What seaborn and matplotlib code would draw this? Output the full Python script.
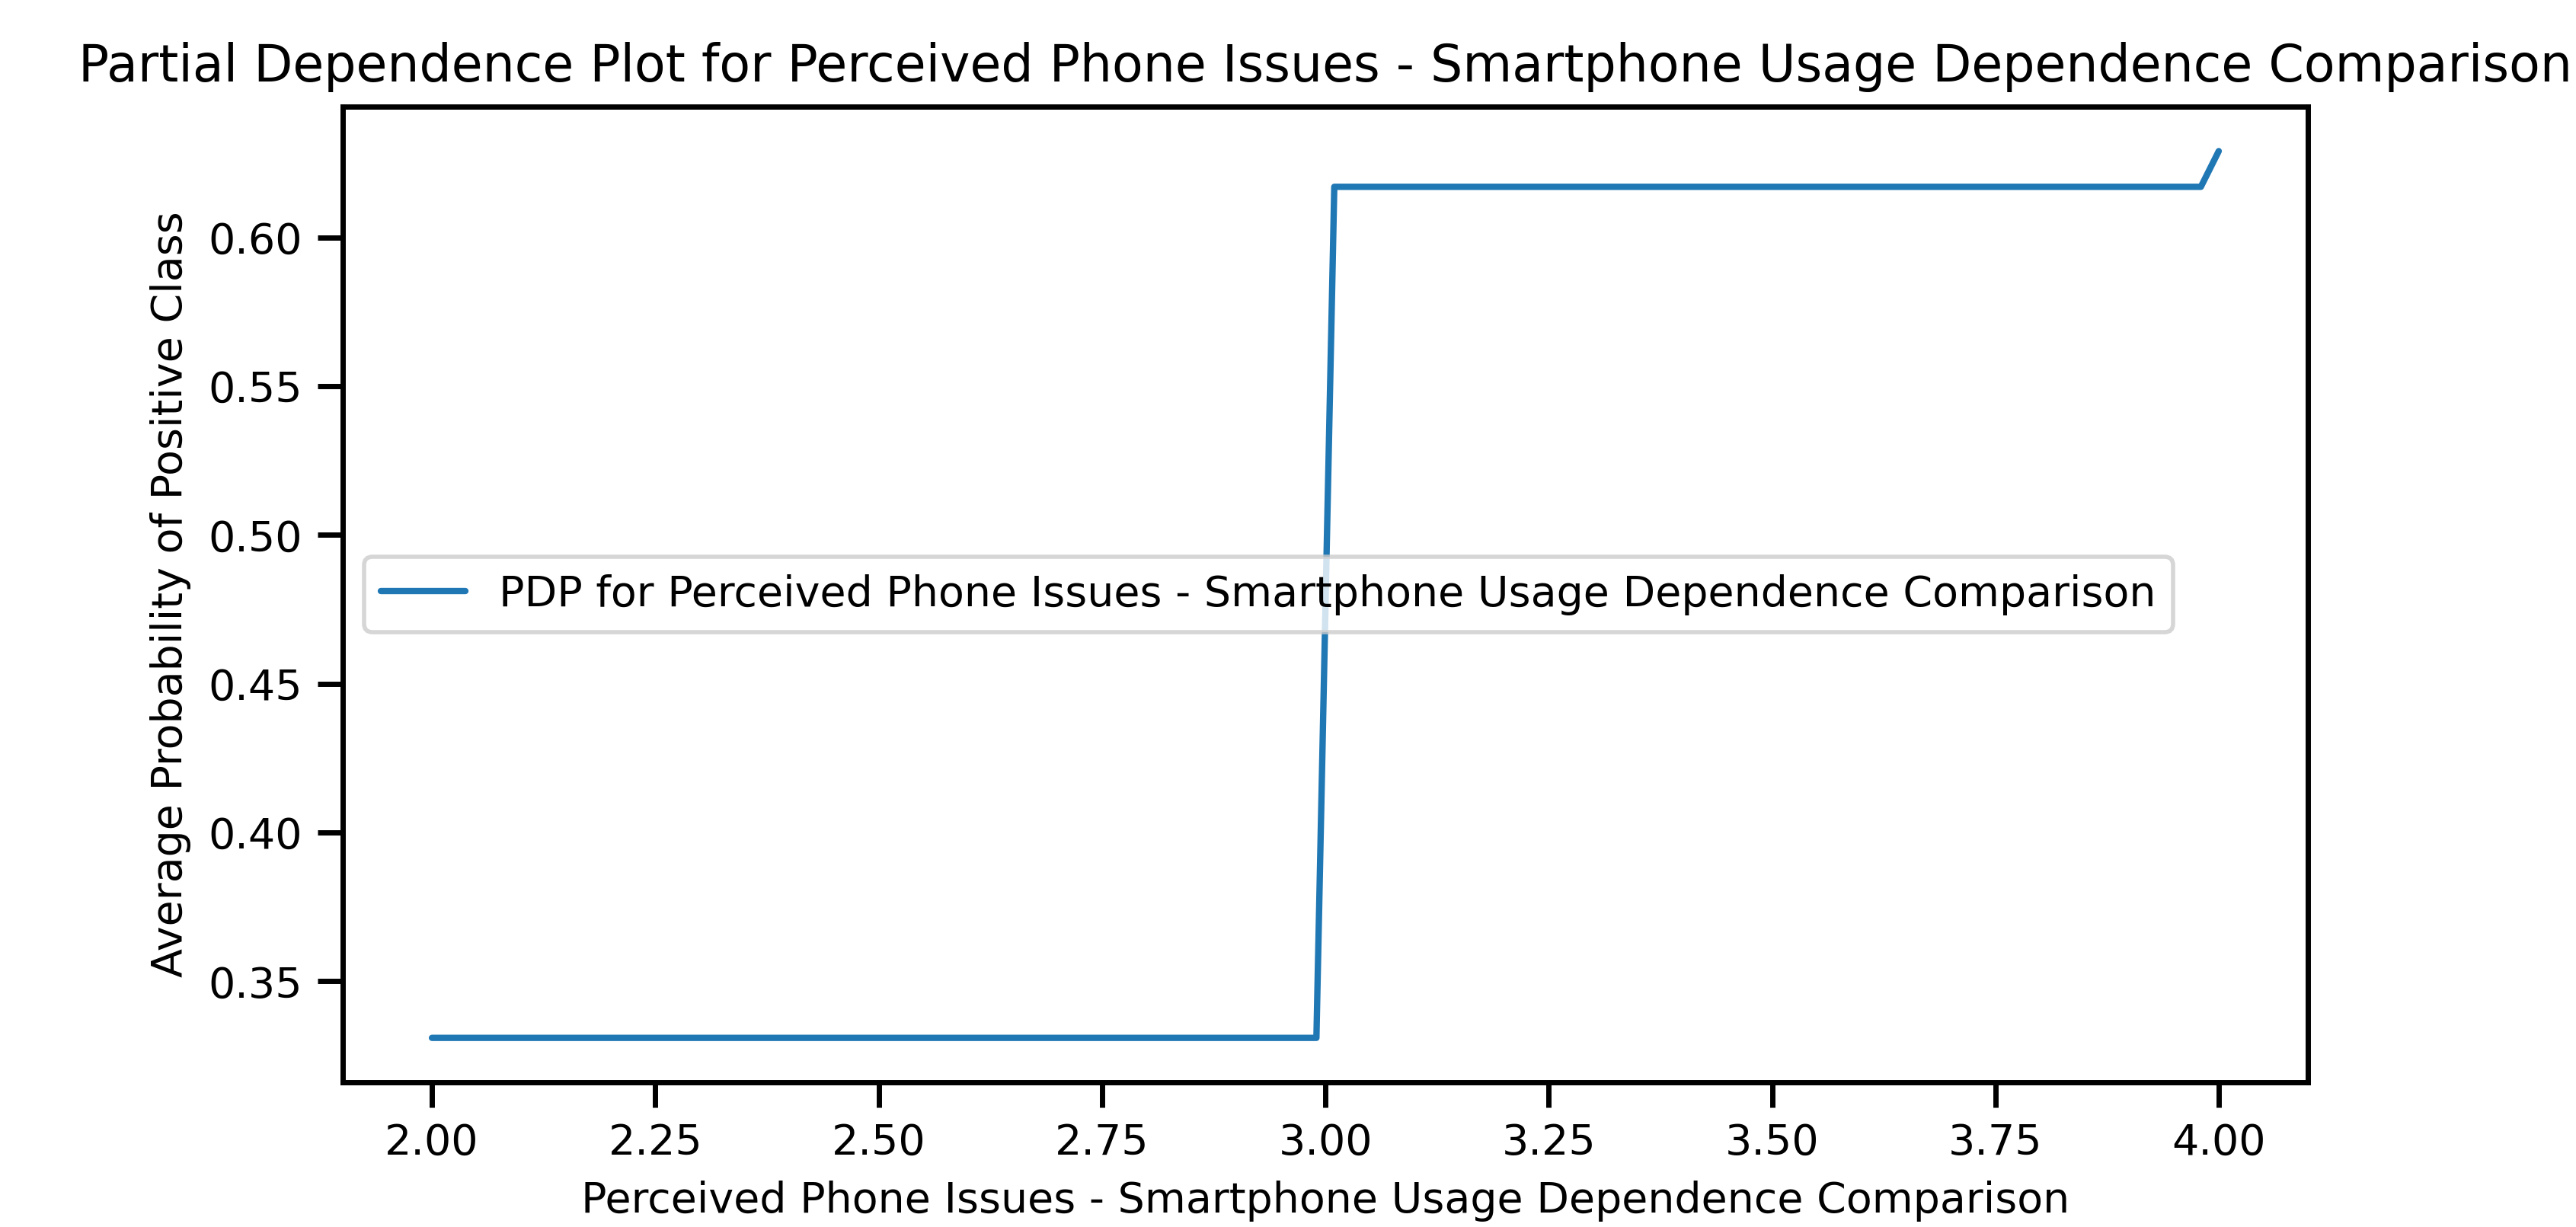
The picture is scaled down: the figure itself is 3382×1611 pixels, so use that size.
import matplotlib
matplotlib.use("Agg")
import matplotlib.pyplot as plt
import seaborn as sns
import pandas as pd

x_vals = [2.0, 2.99, 3.01, 3.98, 4.0]
pdp_vals = [0.331, 0.331, 0.617, 0.617, 0.629]
feature = "Perceived Phone Issues - Smartphone Usage Dependence Comparison"

sns.set_style("ticks")
sns.set_context("notebook", rc={"font.size": 10, "axes.titlesize": 12, "axes.labelsize": 10,
                                "xtick.labelsize": 10, "ytick.labelsize": 10, "legend.fontsize": 10,
                                "lines.linewidth": 1.5})
plt.rcParams['font.family'] = ['DejaVu Sans']
plt.rcParams['axes.edgecolor'] = 'black'
plt.rcParams['text.color'] = 'black'
plt.rcParams['axes.labelcolor'] = 'black'
plt.rcParams['xtick.color'] = 'black'
plt.rcParams['ytick.color'] = 'black'
fig, ax = plt.subplots(figsize=(3382/400, 1611/400), dpi=400)
fig.subplots_adjust(left=0.133, right=0.896, top=0.913, bottom=0.118)
df = pd.DataFrame({"x": x_vals, "y": pdp_vals})
sns.lineplot(data=df, x="x", y="y", ax=ax, color="#1f77b4", label=f"PDP for {feature}")
ax.set_title(f"Partial Dependence Plot for {feature}", fontsize=12)
ax.set_xlabel(feature)
ax.set_ylabel("Average Probability of Positive Class")
ax.set_xticks([2.0, 2.25, 2.5, 2.75, 3.0, 3.25, 3.5, 3.75, 4.0])
ax.xaxis.set_major_formatter(matplotlib.ticker.FormatStrFormatter("%.2f"))
ax.yaxis.set_major_formatter(matplotlib.ticker.FormatStrFormatter("%.2f"))
ax.legend(loc="center left")
fig.savefig("out.png", dpi=400)
